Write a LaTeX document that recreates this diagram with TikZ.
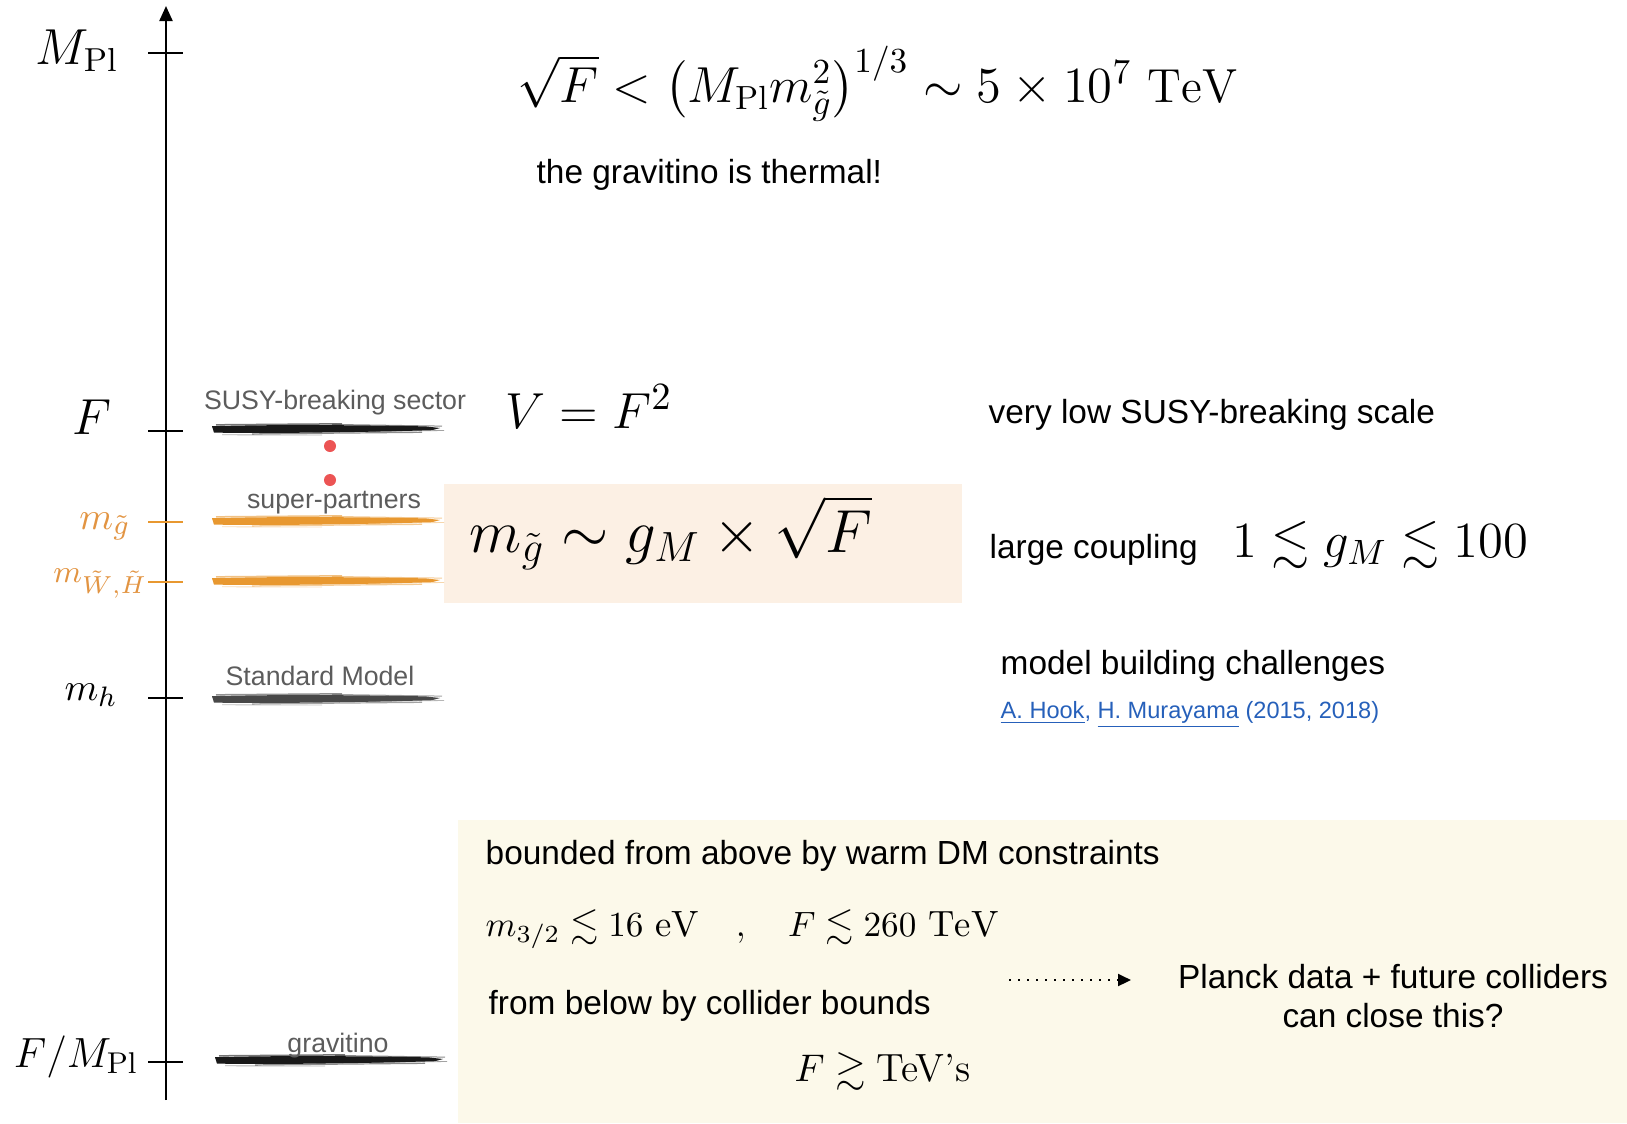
\documentclass[tikz,border=0pt]{standalone}
\usepackage{amsmath,amssymb}
\usepackage{fontspec}
\newfontfamily\helv{Liberation Sans}
\usepackage{tikz}
\usetikzlibrary{arrows.meta, positioning}
\definecolor{brushorange}{RGB}{232,152,48}
\definecolor{lblorange}{RGB}{226,148,66}
\definecolor{peach}{RGB}{252,240,228}
\definecolor{cream}{RGB}{252,249,234}
\definecolor{dotred}{RGB}{236,84,84}
\definecolor{linkblue}{RGB}{38,96,186}
\definecolor{capgray}{RGB}{92,92,92}
\definecolor{smgray}{RGB}{72,72,72}

\begin{document}
\begin{tikzpicture}[
  x=0.01cm, y=-0.01cm,
  axisline/.style={line width=0.022cm},
  tickline/.style={line width=0.028cm},
  sidelbl/.style={inner sep=0pt, anchor=base east},
  lvlname/.style={font=\helv\fontsize{7.6}{9}\selectfont, text=capgray, inner sep=0pt, anchor=base},
  note/.style={font=\helv\fontsize{9.5}{11.2}\selectfont, inner sep=0pt, anchor=base west},
  eqn/.style={inner sep=0pt, anchor=base west},
  reddot/.style={circle, fill=dotred, inner sep=0pt, minimum size=0.12cm},
  pics/brush/.style={code={
    \fill[#1] (0,-2.8) .. controls (60,-4.6) and (150,-4) .. (214,-2.6) -- (228,-1)
      -- (220,1.2) .. controls (150,3.2) and (60,4.6) .. (2,3.6) -- cycle;
    \draw[#1, line width=0.015cm, opacity=0.6] (4,-4.2) -- (130,-5.2);
    \draw[#1, line width=0.012cm, opacity=0.5] (40,4.9) -- (210,3.3);
    \draw[#1, line width=0.010cm, opacity=0.5] (120,-4.6) -- (230,-2.9);
    \draw[#1, line width=0.008cm, opacity=0.35] (10,5.8) -- (110,6);
    \draw[#1, line width=0.008cm, opacity=0.4] (150,2.5) -- (232,1.5);
  }}
]
\useasboundingbox (0,0) rectangle (1627,1123);

% shaded boxes
\fill[peach] (444,484) rectangle (962,603);
\fill[cream] (458,820) rectangle (1627,1123);

% energy axis
\coordinate (axbot) at (166,1100);
\coordinate (axtop) at (166,6);
\draw[axisline, -{Triangle[length=0.15cm, width=0.13cm]}] (axbot) -- (axtop);
\foreach \y in {53,431,698,1062}
  \draw[tickline] (148,\y) -- (183,\y);
\foreach \y in {522,582}
  \draw[tickline, brushorange] (148,\y) -- (183,\y);

% scale labels
\node[sidelbl, font=\fontsize{13.5}{15}\selectfont] (lpl) at (119,64) {$M_{\mathrm{Pl}}$};
\node[sidelbl, font=\fontsize{15}{17}\selectfont] (lf) at (112,434) {$F$};
\node[sidelbl, font=\fontsize{11}{13}\selectfont, text=lblorange] (lgl) at (131,529) {$m_{\tilde g}$};
\node[sidelbl, font=\fontsize{9.3}{11}\selectfont, text=lblorange] (lwh) at (148,582) {$m_{\tilde W,\tilde H}$};
\node[sidelbl, font=\fontsize{11}{13}\selectfont] (lh) at (118,700) {$m_h$};
\node[sidelbl, font=\fontsize{12.2}{14}\selectfont] (lgr) at (139,1067) {$F/M_{\mathrm{Pl}}$};

% levels
\pic at (212,429) {brush=black!90};
\pic at (212,521) {brush=brushorange};
\pic at (212,581) {brush=brushorange};
\pic at (212,699) {brush=smgray};
\pic at (215,1060) {brush=black!90};
\node[lvlname] (susy) at (335,409) {SUSY-breaking sector};
\node[lvlname] (partners) at (334,508) {super-partners};
\node[lvlname] (sm) at (320,685) {Standard Model};
\node[lvlname] (grav) at (338,1052) {gravitino};
\node[reddot] (dot1) at (330,446) {};
\node[reddot] (dot2) at (330,480) {};

% top
\node[eqn, font=\fontsize{13.6}{16}\selectfont] (bound) at (517,102)
  {$\sqrt{F} < \big(M_{\mathrm{Pl}} m_{\tilde g}^2\big)^{1/3} \sim 5\times 10^7\ \mathrm{TeV}$};
\node[note] (thermal) at (536,183) {the gravitino is thermal!};

% middle
\node[eqn, font=\fontsize{15.5}{17}\selectfont] (pot) at (505,428) {$V = F^2$};
\node[note] (lowscale) at (988,423) {very low SUSY-breaking scale};
\node[eqn, font=\fontsize{18.3}{20}\selectfont] (gluino) at (469,552) {$m_{\tilde g} \sim g_M \times \sqrt{F}$};
\node[note] (coupling) at (989,558) {large coupling};
\node[eqn, font=\fontsize{14}{16}\selectfont] (range) at (1232,557) {$1 \lesssim g_M \lesssim 100$};
\node[note] (challenge) at (1000,674) {model building challenges};
\node[note, font=\helv\fontsize{6.7}{8}\selectfont, text=linkblue] (refs) at (1000,718)
  {\underline{A. Hook}, \underline{H. Murayama} (2015, 2018)};

% bottom
\node[note] (warm) at (485,864) {bounded from above by warm DM constraints};
\node[eqn, font=\fontsize{10.4}{13}\selectfont] (upper) at (485,936)
  {$m_{3/2} \lesssim 16\ \mathrm{eV} \quad , \quad F \lesssim 260\ \mathrm{TeV}$};
\node[note] (below) at (488,1014) {from below by collider bounds};
\node[eqn, font=\fontsize{11.2}{13}\selectfont] (lower) at (794,1081) {$F \gtrsim \text{TeV's}$};
\node[note, anchor=center, align=center] (planck) at (1393,996)
  {Planck data + future colliders\\can close this?};
\coordinate (arrtail) at (1009,980);
\coordinate (arrhead) at (1131,980);
\draw[line width=0.02cm, dash pattern=on 0.02cm off 0.07cm,
  -{Triangle[length=0.13cm, width=0.12cm]}] (arrtail) -- (arrhead);
\end{tikzpicture}
\end{document}
